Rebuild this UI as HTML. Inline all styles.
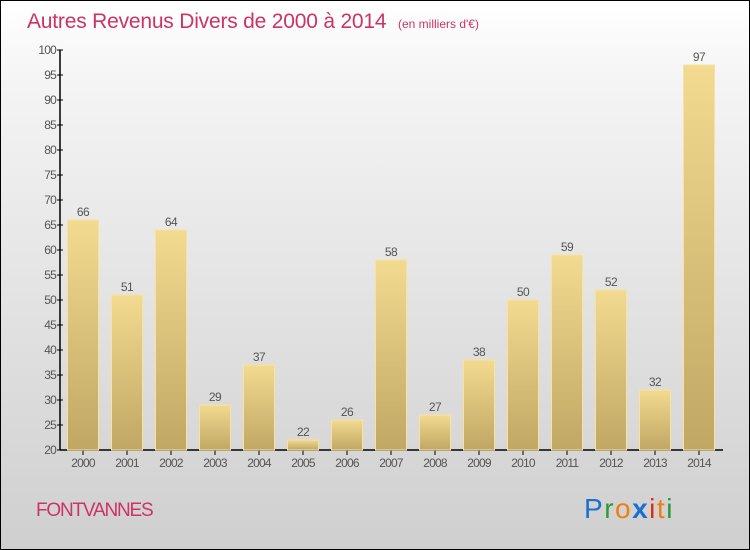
<!DOCTYPE html>
<html><head><meta charset="utf-8"><style>
html,body{margin:0;padding:0}
body{width:750px;height:550px;overflow:hidden}
#wrap{position:relative;width:748px;height:548px;border:1px solid #000;background:linear-gradient(#ffffff,#f4f4f4 15%,#dcdcdc 70%,#cfcfcf);font-family:"Liberation Sans",sans-serif}
</style></head><body>
<div id="wrap">
<svg id="svg" width="748" height="548" style="position:absolute;left:0;top:0">
<defs>
<linearGradient id="bg" x1="0" y1="0" x2="0" y2="1">
<stop offset="0" stop-color="#f2da90"/><stop offset="1" stop-color="#c0a764"/>
</linearGradient>
</defs>
<text x="26" y="27" font-size="21" fill="#cc3366" letter-spacing="-0.2">Autres Revenus Divers de 2000 à 2014 <tspan font-size="12" dx="6" letter-spacing="0">(en milliers d'€)</tspan></text>
<text x="35" y="515" font-size="19" fill="#cc3366" letter-spacing="-1.2">FONTVANNES</text>
<g font-size="28" font-family="'Liberation Sans',sans-serif">
<text x="583" y="517" letter-spacing="1.5"><tspan fill="#1a6fcf">P</tspan><tspan fill="#2a9a3a">r</tspan><tspan fill="#f07d10">o</tspan><tspan fill="#1a6fcf" font-weight="bold">x</tspan><tspan fill="#e03010">i</tspan><tspan fill="#f07d10">t</tspan><tspan fill="#2a9a3a">i</tspan></text>
</g>
<g id="axes"></g>
<g id="bars"></g>
</svg>
</div>
<script>
const years=["2000","2001","2002","2003","2004","2005","2006","2007","2008","2009","2010","2011","2012","2013","2014"];
const values=[66,51,64,29,37,22,26,58,27,38,50,59,52,32,97];
const yTicks=[20,25,30,35,40,45,50,55,60,65,70,75,80,85,90,95,100];
const NS="http://www.w3.org/2000/svg";
const axes=document.getElementById('axes');
const barsG=document.getElementById('bars');
function y(v){return 449-(v-20)*5;}
function x(i){return 82+i*44;}
function mk(t,a){const e=document.createElementNS(NS,t);for(const k in a)e.setAttribute(k,a[k]);return e;}
let l=mk('line',{x1:59,y1:49,x2:59,y2:449,stroke:'#000','stroke-width':1.5});


axes.appendChild(l);
l=mk('line',{x1:59,y1:449,x2:722,y2:449,stroke:'#000','stroke-width':1.5});


axes.appendChild(l);
yTicks.forEach(v=>{
 const t=mk('line',{x1:56,y1:y(v),x2:62,y2:y(v),stroke:'#000'});
 axes.appendChild(t);
 const tx=mk('text',{x:55,y:y(v)+4,'font-size':12,fill:'#555','text-anchor':'end','letter-spacing':'-0.8'});
 tx.textContent=v;
 
 
 axes.appendChild(tx);
});
years.forEach((yr,i)=>{
 const t=mk('line',{x1:x(i),y1:449,x2:x(i),y2:454,stroke:'#000'});
 axes.appendChild(t);
 const tx=mk('text',{x:x(i),y:466,'font-size':12,fill:'#555','text-anchor':'middle','letter-spacing':'-0.8'});
 tx.textContent=yr;
 
 
 axes.appendChild(tx);
 const v=values[i];
 const r=mk('rect',{x:x(i)-15.5,y:y(v),width:31,height:449-y(v),fill:'url(#bg)',stroke:'#f6e3a0','stroke-width':1});
 
 
 barsG.appendChild(r);
 const lb=mk('text',{x:x(i),y:y(v)-4,'font-size':12,fill:'#555','text-anchor':'middle','letter-spacing':'-0.5'});
 lb.textContent=v;
 
 
 barsG.appendChild(lb);
});
</script>
</body></html>
